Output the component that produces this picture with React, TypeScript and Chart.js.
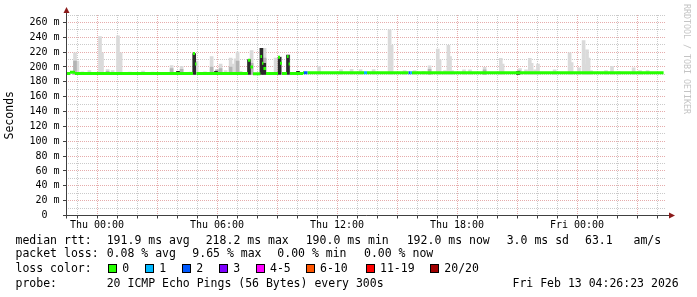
import React, { useEffect, useRef } from "react";
import { Chart, registerables } from "chart.js";

Chart.register(...registerables);

// ---------------- data ----------------
// time axis in hours relative to Thu 00:00
const xMinHour = -1.55;
const xMaxHour = 28.45;
const dataEndHour = 28.33;
const xTickHours = [-1, 0, 1, 2, 3, 4, 5, 6, 7, 8, 9, 10, 11, 12, 13, 14, 15, 16, 17, 18, 19, 20, 21, 22, 23, 24, 25, 26, 27, 28];
const xLabelHours = [0, 6, 12, 18, 24];
const xLabelTexts = ["Thu 00:00", "Thu 06:00", "Thu 12:00", "Thu 18:00", "Fri 00:00"];

// y axis in milliseconds
const yMax = 270;
const yTickValues = [0, 10, 20, 30, 40, 50, 60, 70, 80, 90, 100, 110, 120, 130, 140, 150, 160, 170, 180, 190, 200, 210, 220, 230, 240, 250, 260, 270];
const yLabelValues = [0, 20, 40, 60, 80, 100, 120, 140, 160, 180, 200, 220, 240, 260];
const yLabelTexts = ["0  ", "20 m", "40 m", "60 m", "80 m", "100 m", "120 m", "140 m", "160 m", "180 m", "200 m", "220 m", "240 m", "260 m"];

// smoke: light (max ping) spikes
const smokeFloor = 190;
const smokeHours = [-1.10, -0.98, -0.73, -0.38, 0.15, 0.25, 0.53, 0.78, 1.05, 1.18, 1.65, 2.30, 2.78, 3.73, 4.23, 4.68, 4.98, 5.40, 5.73, 6.18, 6.43, 6.68, 6.83, 6.93, 7.03, 7.18, 7.73, 8.25, 8.38, 8.93, 9.15, 9.57, 11.10, 12.20, 12.73, 13.18, 13.83, 14.63, 14.73, 15.38, 15.88, 16.33, 16.63, 17.04, 17.13, 17.40, 17.57, 17.65, 17.75, 18.35, 18.65, 19.38, 20.19, 20.28, 21.15, 21.45, 21.64, 21.73, 21.90, 22.05, 22.88, 23.63, 23.73, 24.10, 24.33, 24.42, 24.50, 24.58, 24.70, 25.45, 25.75, 26.08, 26.83, 27.15, 27.53];
const smokeMax = [219, 208, 193.5, 195, 241, 219, 196.5, 195, 242, 219, 193, 194.5, 193, 202, 201, 193, 208, 193.5, 214, 204, 195, 212, 204, 211, 220, 194, 222, 225, 225, 212, 214, 216, 201, 196.5, 197, 196.5, 196.5, 250, 229, 195, 195, 194, 201.5, 224, 209.5, 195, 229, 214, 195, 196, 196, 199.6, 211.7, 204, 198, 196, 211.7, 205, 196, 204, 196, 219, 206, 199, 235.5, 203, 223, 212, 195, 195, 201, 194, 199, 195, 195];

// smoke: medium-grey band
const midHours = [-1.10, 0.53, 3.73, 4.23, 5.73, 6.00, 6.18, 6.68, 7.03, 7.73, 8.38, 16.63, 19.38, 21.10];
const midTop = [208, 194, 198, 197, 200, 196, 198, 200, 208, 205, 212, 197, 196, 195];

// smoke: dense (dark) band
const denseHours = [4.05, 4.86, 5.95, 7.60, 8.22, 8.36, 9.13, 9.55, 10.05, 21.05];
const denseTop = [194, 218, 194, 210, 225, 205, 213, 216, 194, 194];

// median rtt steps (start hour, value in ms, lost pings out of 20)
const medianHours = [-1.55, -1.35, -1.10, 4.80, 4.90, 4.97, 7.55, 7.67, 7.80, 8.17, 8.25, 8.32, 8.45, 9.05, 9.15, 9.25, 9.50, 9.58, 9.65, 10.30, 10.35, 10.53, 13.35, 13.50, 15.58, 15.68, 15.75];
const medianValues = [191.3, 192.8, 191.3, 218, 204, 191.3, 209, 200, 190.8, 214, 205, 198, 191.3, 213, 205, 191.3, 214, 204, 191.3, 192.3, 192.3, 192.3, 192.3, 192.3, 192.3, 192.3, 192.3];
const medianLoss = [0, 0, 0, 0, 0, 0, 0, 0, 0, 0, 0, 0, 0, 0, 0, 0, 0, 0, 0, 0, 2, 0, 1, 0, 2, 1, 0];

// legend
const lossLabels = ["0", "1", "2", "3", "4-5", "6-10", "11-19", "20/20"];
const lossColorsByCount = ["#26ff00", "#00b8ff", "#0059ff", "#7e00ff", "#ff00ff", "#ff5500", "#ff0000", "#a00000"];
const rttStats = ["191.9 ms avg", "218.2 ms max", "190.0 ms min", "192.0 ms now", "3.0 ms sd", "63.1   am/s"];
const lossStats = ["0.08 % avg", "9.65 % max", "0.00 % min", "0.00 % now"];
const probeText = "20 ICMP Echo Pings (56 Bytes) every 300s";
const dateText = "Fri Feb 13 04:26:23 2026";
const watermarkText = "RRDTOOL / TOBI OETIKER";

// ---------------- styling / layout ----------------
const MONO = "'DejaVu Sans Mono', 'Liberation Mono', monospace";
const MINOR_GRID = "rgba(128,128,128,0.42)";
const MAJOR_GRID = "rgba(200,70,70,0.45)";
const ARROW = "#8b1a1a";
const AXIS = "#404040";

const rttX = [106.7, 205.7, 305.7, 406.7, 506.7, 585];
const lossX = [106.7, 192.3, 277.3, 364];
const boxTextX = [122.3, 159.2, 196.3, 233.3, 270, 320, 380, 444.3];
const boxGap = 14;

const axisDecor = {
  id: "axisDecor",
  afterDraw(chart: any) {
    const { ctx, chartArea } = chart;
    const { left, right, top } = chartArea;
    const y0 = Math.floor(chart.scales.y.getPixelForValue(0)) + 0.5;
    const x0 = Math.floor(left) + 0.5;
    ctx.save();
    ctx.strokeStyle = AXIS;
    ctx.lineWidth = 1;
    ctx.beginPath();
    ctx.moveTo(x0, y0 + 3);
    ctx.lineTo(x0, top - 3);
    ctx.moveTo(left - 3, y0);
    ctx.lineTo(right + 4, y0);
    ctx.stroke();
    ctx.fillStyle = ARROW;
    ctx.beginPath();
    ctx.moveTo(x0 - 3, top - 2);
    ctx.lineTo(x0 + 3, top - 2);
    ctx.lineTo(x0, top - 8);
    ctx.closePath();
    ctx.fill();
    ctx.beginPath();
    ctx.moveTo(right + 3, y0 - 3);
    ctx.lineTo(right + 3, y0 + 3);
    ctx.lineTo(right + 9, y0);
    ctx.closePath();
    ctx.fill();
    ctx.restore();
  },
};

function buildMedianData() {
  const pts: any[] = [];
  for (let i = 0; i < medianHours.length; i++) {
    const start = medianHours[i];
    const end = i + 1 < medianHours.length ? medianHours[i + 1] : dataEndHour;
    pts.push({ x: start, y: medianValues[i] });
    pts.push({ x: end, y: medianValues[i] });
    pts.push({ x: end, y: null });
  }
  return pts;
}

export default function App() {
  const canvasRef = useRef<HTMLCanvasElement | null>(null);

  useEffect(() => {
    const canvas = canvasRef.current;
    if (!canvas) return;
    const chart = new Chart(canvas, {
      type: "line",
      data: {
        datasets: [
          {
            type: "line",
            data: buildMedianData(),
            borderColor: lossColorsByCount[0],
            borderWidth: 3,
            borderCapStyle: "butt",
            pointRadius: 0,
            spanGaps: false,
            tension: 0,
            order: 0,
            segment: {
              borderColor: (c: any) => lossColorsByCount[medianLoss[Math.floor(c.p0DataIndex / 3)]],
            },
          } as any,
          {
            type: "bar",
            data: denseHours.map((h, i) => ({ x: h, y: [smokeFloor, denseTop[i]] })),
            backgroundColor: "#2a2a2a",
            barThickness: 3,
            grouped: false,
            borderWidth: 0,
            order: 1,
          } as any,
          {
            type: "bar",
            data: midHours.map((h, i) => ({ x: h, y: [smokeFloor, midTop[i]] })),
            backgroundColor: "#b4b4b4",
            barThickness: 3,
            grouped: false,
            borderWidth: 0,
            order: 2,
          } as any,
          {
            type: "bar",
            data: smokeHours.map((h, i) => ({ x: h, y: [smokeFloor, smokeMax[i]] })),
            backgroundColor: "#dadada",
            barThickness: 3,
            grouped: false,
            borderWidth: 0,
            order: 3,
          } as any,
        ],
      },
      options: {
        responsive: false,
        animation: false,
        events: [],
        layout: { padding: { left: 0, right: 31, top: 15, bottom: 0 } },
        plugins: { legend: { display: false }, tooltip: { enabled: false } },
        scales: {
          x: {
            type: "linear",
            min: xMinHour,
            max: xMaxHour,
            offset: false,
            afterBuildTicks: (s: any) => {
              s.ticks = xTickHours.map((v) => ({ value: v }));
            },
            afterFit: (s: any) => {
              s.height = 81.5;
            },
            ticks: {
              autoSkip: false,
              maxRotation: 0,
              padding: 1,
              color: "#000",
              font: { family: MONO, size: 10 },
              callback: (v: any) => {
                const i = xLabelHours.indexOf(Number(v));
                return i >= 0 ? xLabelTexts[i] : "";
              },
            },
            grid: {
              offset: false,
              color: (c: any) => (c.tick && c.tick.value % 3 === 0 ? MAJOR_GRID : MINOR_GRID),
              lineWidth: 1,
              drawTicks: true,
              tickLength: 3,
              tickColor: AXIS,
              tickBorderDash: [],
            },
            border: { display: false, dash: [1, 1] },
          },
          y: {
            type: "linear",
            min: 0,
            max: yMax,
            afterBuildTicks: (s: any) => {
              s.ticks = yTickValues.map((v) => ({ value: v }));
            },
            afterFit: (s: any) => {
              s.width = 66;
            },
            ticks: {
              autoSkip: false,
              padding: 3.5,
              color: "#000",
              font: { family: MONO, size: 10 },
              callback: (v: any) => {
                const i = yLabelValues.indexOf(Number(v));
                return i >= 0 ? yLabelTexts[i] : "";
              },
            },
            title: {
              display: true,
              text: "Seconds",
              color: "#000",
              font: { family: MONO, size: 11.5 },
              padding: { top: 3, bottom: 0 },
            },
            grid: {
              color: (c: any) => (c.tick && c.tick.value % 20 === 0 ? MAJOR_GRID : MINOR_GRID),
              lineWidth: 1,
              drawTicks: true,
              tickLength: 3,
              tickColor: (c: any) => (c.tick && c.tick.value % 20 === 0 ? AXIS : "rgba(0,0,0,0)"),
              tickBorderDash: [],
            },
            border: { display: false, dash: [1, 1] },
          },
        },
      } as any,
      plugins: [axisDecor],
    });
    return () => chart.destroy();
  }, []);

  const txt = (left: number, top: number, s: string, key: string, extra: any = {}) => (
    <div
      key={key}
      style={{
        position: "absolute",
        left,
        top,
        font: `11.5px ${MONO}`,
        lineHeight: "11.5px",
        whiteSpace: "pre",
        color: "#000",
        ...extra,
      }}
    >
      {s}
    </div>
  );

  const line1Top = 234.5;
  const line2Top = 247.5;
  const line3Top = 263;
  const line4Top = 277.5;

  return (
    <div style={{ position: "fixed", left: 0, top: 0, width: 697, height: 297, background: "#fff", overflow: "hidden" }}>
      <canvas ref={canvasRef} width={697} height={297} style={{ position: "absolute", left: 0, top: 0, width: 697, height: 297 }} />
      {txt(15.5, line1Top, "median rtt:", "l1")}
      {rttStats.map((s, i) => txt(rttX[i], line1Top, s, "r" + i))}
      {txt(15.5, line2Top, "packet loss:", "l2")}
      {lossStats.map((s, i) => txt(lossX[i], line2Top, s, "p" + i))}
      {txt(15.5, line3Top, "loss color:", "l3")}
      {lossLabels.map((s, i) => (
        <div
          key={"b" + i}
          style={{
            position: "absolute",
            left: Math.round(boxTextX[i] - boxGap),
            top: 264,
            width: 9,
            height: 9,
            boxSizing: "border-box",
            border: "1px solid #000",
            background: lossColorsByCount[i],
          }}
        />
      ))}
      {lossLabels.map((s, i) => txt(boxTextX[i], line3Top, s, "t" + i))}
      {txt(15.5, line4Top, "probe:", "l4")}
      {txt(106.7, line4Top, probeText, "pr")}
      {txt(512.5, line4Top, dateText, "dt")}
      <div
        style={{
          position: "absolute",
          left: 682,
          top: 4,
          writingMode: "vertical-rl",
          font: `8.3px ${MONO}`,
          lineHeight: "9px",
          color: "#c4c4c4",
          whiteSpace: "pre",
        }}
      >
        {watermarkText}
      </div>
    </div>
  );
}
